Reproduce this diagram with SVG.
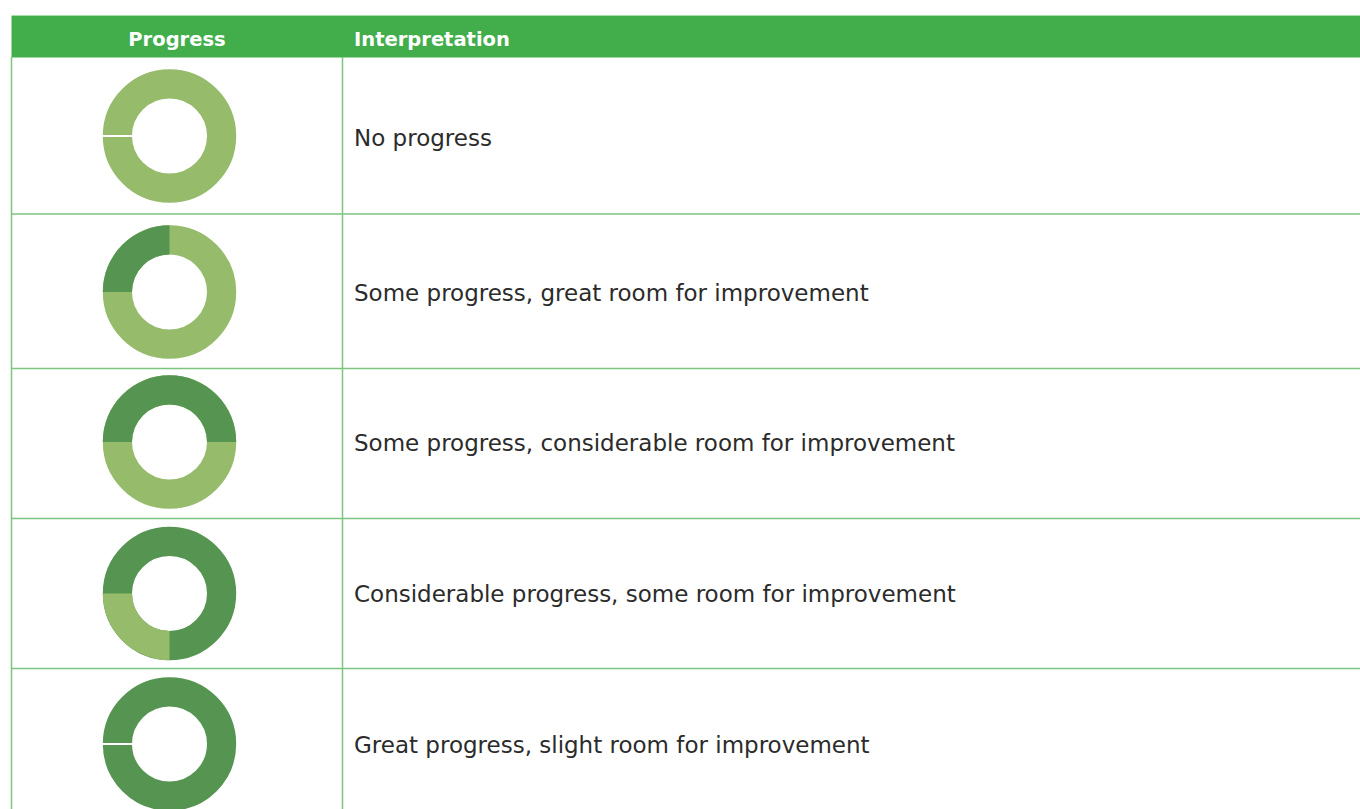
<svg xmlns="http://www.w3.org/2000/svg" width="1360" height="809" viewBox="0 0 1360 809">
<style>
.hd{fill:#41AE4B}
.ht{font-family:"DejaVu Sans",sans-serif;font-weight:bold;font-size:19.5px;fill:#ffffff}
.tx{font-family:"DejaVu Sans",sans-serif;font-size:23px;fill:#2b2b2b}
.grid{stroke:#7CC57F;stroke-width:1.5;fill:none}
.light{fill:none;stroke:#95BB6B;stroke-width:29.2}
.dark{fill:none;stroke:#569452;stroke-width:29.2}
.lf{fill:#95BB6B}
.df{fill:#569452}
.gap{stroke:#ffffff;stroke-width:2}
</style>
<rect width="1360" height="809" fill="#ffffff"/>
<g id="header">
<line x1="11.5" y1="15.5" x2="1360" y2="15.5" stroke="#A8DCA9" stroke-width="1"/>
<rect class="hd" x="11.5" y="16" width="1348.5" height="41.5"/>
<text class="ht" x="177" y="45.5" text-anchor="middle">Progress</text>
<text class="ht" x="354" y="45.5">Interpretation</text>
</g>
<g id="grid">
<line class="grid" x1="11.5" y1="57" x2="11.5" y2="809"/>
<line class="grid" x1="342.5" y1="57" x2="342.5" y2="809"/>
<line class="grid" x1="11.5" y1="214" x2="1360" y2="214"/>
<line class="grid" x1="11.5" y1="368.5" x2="1360" y2="368.5"/>
<line class="grid" x1="11.5" y1="518.5" x2="1360" y2="518.5"/>
<line class="grid" x1="11.5" y1="668.5" x2="1360" y2="668.5"/>
</g>
<g id="row1">
<circle class="light" cx="169.5" cy="136" r="52.1"/>
<line class="gap" x1="102" y1="136" x2="133" y2="136"/>
<text class="tx" x="354" y="145.5">No progress</text>
</g>
<g id="row2">
<circle class="light" cx="169.5" cy="292" r="52.1"/>
<path class="df" d="M169.5,225.3 A66.7,66.7 0 0 0 102.8,292 L132,292 A37.5,37.5 0 0 1 169.5,254.5 Z"/>
<text class="tx" x="354" y="300.5">Some progress, great room for improvement</text>
</g>
<g id="row3">
<circle class="light" cx="169.5" cy="442" r="52.1"/>
<path class="df" d="M102.8,442 A66.7,66.7 0 0 1 236.2,442 L207,442 A37.5,37.5 0 0 0 132,442 Z"/>
<text class="tx" x="354" y="451">Some progress, considerable room for improvement</text>
</g>
<g id="row4">
<circle class="dark" cx="169.5" cy="593.5" r="52.1"/>
<path class="lf" d="M169.5,660.2 A66.7,66.7 0 0 1 102.8,593.5 L132,593.5 A37.5,37.5 0 0 0 169.5,631 Z"/>
<text class="tx" x="354" y="602">Considerable progress, some room for improvement</text>
</g>
<g id="row5">
<circle class="dark" cx="169.5" cy="744" r="52.1"/>
<line class="gap" x1="102" y1="744" x2="133" y2="744"/>
<text class="tx" x="354" y="753">Great progress, slight room for improvement</text>
</g>
</svg>
